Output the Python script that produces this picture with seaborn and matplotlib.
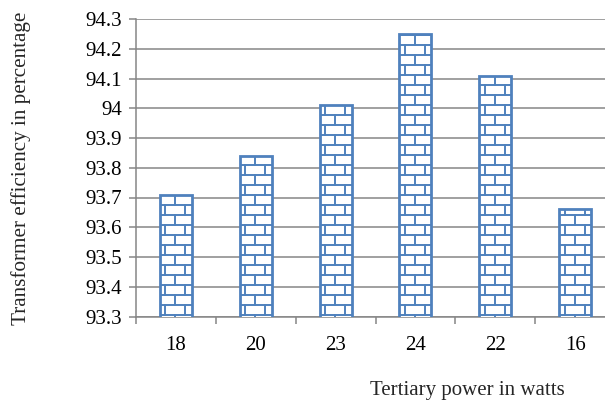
import numpy as np
import matplotlib
matplotlib.use("Agg")
import matplotlib.pyplot as plt
import matplotlib.hatch as mhatch
from matplotlib.path import Path
import seaborn as sns
import warnings

warnings.filterwarnings("ignore")

# ---- data ----
categories = ["18", "20", "23", "24", "22", "16"]
efficiency = [93.71, 93.84, 94.01, 94.25, 94.11, 93.66]
y_ticks = [93.3, 93.4, 93.5, 93.6, 93.7, 93.8, 93.9, 94.0, 94.1, 94.2, 94.3]
y_tick_labels = ["93.3", "93.4", "93.5", "93.6", "93.7", "93.8", "93.9", "94", "94.1", "94.2", "94.3"]
x_label = "Tertiary power in watts"
y_label = "Transformer efficiency in percentage"


# ---- custom brick hatch ----
class BrickHatch(mhatch.HatchPatternBase):
    ROWS = 10
    COLS = 5

    def __init__(self, hatch, density):
        self.on = 'b' in hatch
        self.segs = []
        if self.on:
            r, c = self.ROWS, self.COLS
            for k in range(r):
                y0 = (k + 0.5) / r
                self.segs.append(((0.0, y0), (1.0, y0)))
                y1 = y0 + 1.0 / r
                for j in range(c):
                    x = (j + 0.5 * (k % 2) + 0.25) / c
                    if y1 > 1.0:
                        self.segs.append(((x, y0), (x, 1.0)))
                        self.segs.append(((x, 0.0), (x, y1 - 1.0)))
                    else:
                        self.segs.append(((x, y0), (x, y1)))
        self.num_vertices = 2 * len(self.segs)

    def set_vertices_and_codes(self, vertices, codes):
        for i, (a, b) in enumerate(self.segs):
            vertices[2 * i] = a
            vertices[2 * i + 1] = b
            codes[2 * i] = Path.MOVETO
            codes[2 * i + 1] = Path.LINETO


mhatch._hatch_types.append(BrickHatch)

# ---- style ----
sns.set_theme(style="white")
plt.rcParams["font.family"] = ["Liberation Serif", "DejaVu Serif"]
plt.rcParams["hatch.linewidth"] = 1.4

blue = "#4F81BD"
grey = "#868686"

fig = plt.figure(figsize=(6.05, 4.03), dpi=100)
W, H = 605, 403
left, right, top, bottom = 136, 615, 19, 316.5
ax = fig.add_axes([left / W, 1 - bottom / H, (right - left) / W, (bottom - top) / H])

sns.barplot(x=categories, y=efficiency, order=categories, color="white",
            edgecolor=blue, linewidth=2.0, width=0.4, ax=ax, zorder=3)
for p in ax.patches:
    p.set_hatch("b")
    p.set_edgecolor(blue)

ax.set_ylim(93.3, 94.3)
ax.set_xlim(-0.5, len(categories) - 0.5)
ax.set_yticks(y_ticks)
ax.set_yticklabels(y_tick_labels)

ax.yaxis.grid(True, color=grey, linewidth=1.1, zorder=0)
ax.set_axisbelow(True)

for s in ["top", "right"]:
    ax.spines[s].set_visible(False)
for s in ["left", "bottom"]:
    ax.spines[s].set_color(grey)
    ax.spines[s].set_linewidth(1.1)

ax.set_xticks(np.arange(-0.5, len(categories), 1.0), minor=True)
ax.tick_params(axis="x", which="major", length=0, pad=14, labelsize=15, colors="black")
ax.tick_params(axis="x", which="minor", length=5, width=1.1, color=grey, direction="out")
ax.tick_params(axis="y", which="major", length=5, width=1.1, color=grey, direction="out",
               pad=5, labelsize=15, labelcolor="black")
ax.tick_params(axis="y", left=True)
ax.tick_params(axis="x", which="minor", bottom=True)

ax.set_xlabel(x_label, fontsize=15)
ax.set_ylabel(y_label, fontsize=15.2)
ax.xaxis.set_label_coords(467 / W, 1 - 390 / H, transform=fig.transFigure)
ax.xaxis.label.set_va("center")
ax.yaxis.set_label_coords(21 / W, 1 - 168 / H, transform=fig.transFigure)
ax.yaxis.label.set_va("center")

fig.savefig("out.png", dpi=100)
